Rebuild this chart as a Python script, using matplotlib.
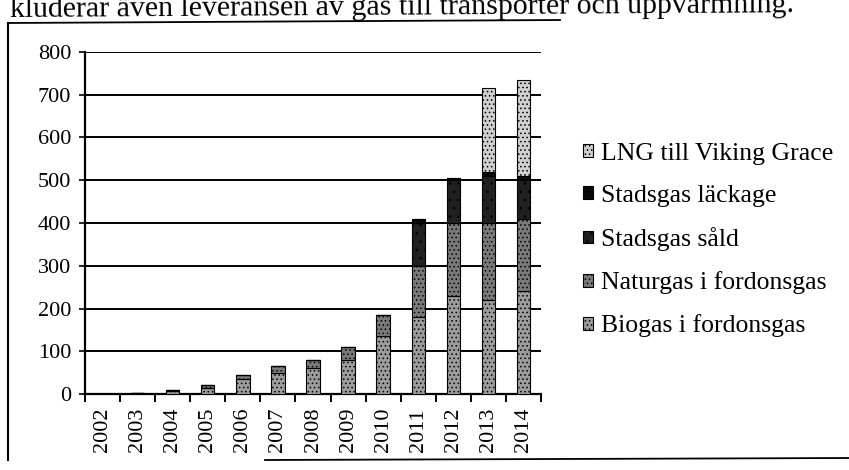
import numpy as np
import matplotlib
matplotlib.use("Agg")
import matplotlib.pyplot as plt
from matplotlib.lines import Line2D

plt.rcParams['font.family'] = ['Liberation Serif', 'DejaVu Serif']

# ##############################################################################
# data (GWh)
years = ['2002', '2003', '2004', '2005', '2006', '2007', '2008',
         '2009', '2010', '2011', '2012', '2013', '2014']
biogas = [1, 2, 8, 15, 35, 50, 60, 80, 135, 180, 230, 220, 240]
naturgas = [0, 0, 2, 5, 10, 15, 20, 30, 50, 120, 170, 180, 170]
stadsgas_sald = [0, 0, 0, 0, 0, 0, 0, 0, 0, 100, 100, 110, 90]
stadsgas_lackage = [0, 0, 0, 0, 0, 0, 0, 0, 0, 10, 5, 10, 10]
lng = [0, 0, 0, 0, 0, 0, 0, 0, 0, 0, 0, 195, 225]

# series in stacking order (bottom first)
series = [('Biogas i fordonsgas', biogas, '#9c9c9c', '....'),
          ('Naturgas i fordonsgas', naturgas, '#7a7a7a', '....'),
          ('Stadsgas såld', stadsgas_sald, '#202020', '..'),
          ('Stadsgas läckage', stadsgas_lackage, '#0a0a0a', '..'),
          ('LNG till Viking Grace', lng, '#cfcfcf', '....')]

W, H = 849, 470
fig = plt.figure(figsize=(W / 100, H / 100), dpi=100)
ax = fig.add_axes([85 / W, 1 - 394 / H, 456 / W, 342 / H])

plt.rcParams['hatch.color'] = '#f0f0f0'
plt.rcParams['hatch.linewidth'] = 0.6

x = np.arange(len(years))
bottom = np.zeros(len(years))
hnds = []
for label, vals, color, hatch in series:
    vals = np.array(vals, dtype=float)
    b = ax.bar(x, vals, width=0.38, bottom=bottom, color=color,
               edgecolor='black', linewidth=0.8, hatch=hatch, label=label,
               zorder=3)
    hnds.append(b)
    bottom += vals

ax.set_xlim(-0.5, len(years) - 0.5)
ax.set_ylim(0, 800)
ax.set_yticks(range(0, 801, 100))
ax.tick_params(axis='y', labelsize=16, length=4, width=1.2, pad=6)
ax.grid(axis='y', color='black', linewidth=1.4, zorder=0)

# category labels at centres, tick marks between categories (Excel style)
ax.set_xticks(x)
ax.set_xticklabels(years, rotation=90, fontsize=16)
ax.tick_params(axis='x', which='major', length=0, pad=10)
ax.set_xticks(np.arange(-0.5, len(years)), minor=True)
ax.tick_params(axis='x', which='minor', length=6, width=1.4, direction='out')

for s in ['top', 'right']:
    ax.spines[s].set_visible(False)
for s in ['left', 'bottom']:
    ax.spines[s].set_linewidth(1.6)

# legend, reversed order like the original
leg = fig.legend(handles=hnds[::-1], loc='upper left',
                 bbox_to_anchor=(560 / W, 1 - 120 / H), frameon=False,
                 fontsize=18.5, handlelength=0.4, handleheight=0.4,
                 handletextpad=0.3, labelspacing=0.78)

# frame of the scanned figure
fig.add_artist(Line2D([8 / W, 8 / W], [1 - 23 / H, 1 - 460 / H],
                      color='black', linewidth=1.5))
fig.add_artist(Line2D([8 / W, 560 / W], [1 - 23 / H, 1 - 20 / H],
                      color='black', linewidth=1.3))
fig.add_artist(Line2D([265 / W, 1.0], [1 - 460 / H, 1 - 458 / H],
                      color='black', linewidth=1.3))

# cut-off line of body text above the chart
fig.text(10 / W, 1 - 17 / H,
         'kluderar även leveransen av gas till transporter och uppvärmning.',
         fontsize=21.5, va='baseline', ha='left',
         rotation=0.35, rotation_mode='anchor')

plt.savefig('out.png', dpi=100)
